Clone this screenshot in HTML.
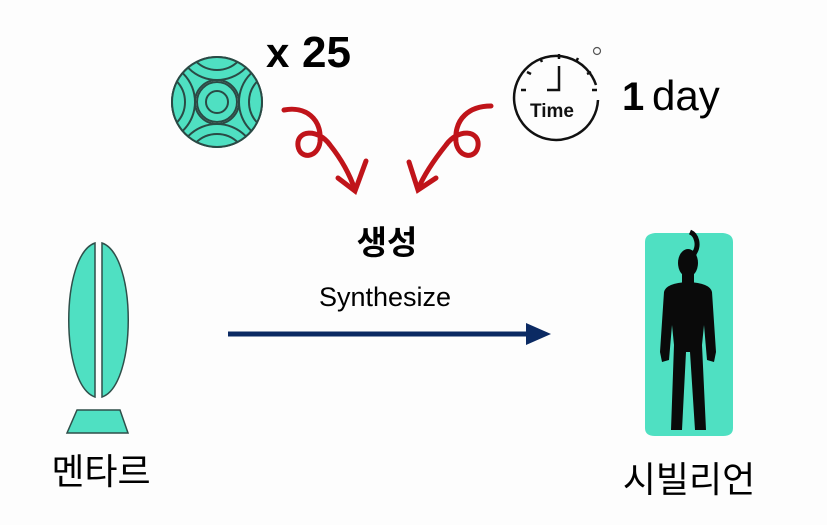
<!DOCTYPE html>
<html><head><meta charset="utf-8"><style>
html,body{margin:0;padding:0;background:#fdfdfd;}
svg{display:block}
text{font-family:"Liberation Sans","Noto Sans CJK KR",sans-serif;}
</style></head><body>
<svg width="827" height="525" viewBox="0 0 827 525" xmlns="http://www.w3.org/2000/svg">
<rect width="827" height="525" fill="#fdfdfd"/>
<defs><clipPath id="c"><circle cx="217" cy="102" r="45"/></clipPath></defs>
<circle cx="217" cy="102" r="45" fill="#4fe0c2" stroke="#2a4a45" stroke-width="2"/>
<g clip-path="url(#c)" fill="none" stroke="#2a4a45" stroke-width="2">
<circle cx="217" cy="102" r="22" fill="#fdfdfd"/>
<circle cx="217" cy="40" r="40" fill="#4fe0c2"/>
<circle cx="217" cy="40" r="30"/>
<circle cx="217" cy="164" r="40" fill="#4fe0c2"/>
<circle cx="217" cy="164" r="30"/>
<circle cx="155" cy="102" r="40" fill="#4fe0c2"/>
<circle cx="155" cy="102" r="30"/>
<circle cx="279" cy="102" r="40" fill="#4fe0c2"/>
<circle cx="279" cy="102" r="30"/>
<circle cx="217" cy="102" r="20" fill="#4fe0c2"/>
<circle cx="217" cy="102" r="11"/>
</g>
<circle cx="217" cy="102" r="45" fill="none" stroke="#2a4a45" stroke-width="2"/>
<text x="266" y="67" font-size="42" font-weight="bold" fill="#000">x</text>
<text x="302" y="67" font-size="44" font-weight="bold" fill="#000">25</text>
<path d="M596,85 A42,42 0 1 0 598,100" fill="none" stroke="#111" stroke-width="2.5"/>
<circle cx="597" cy="51" r="3.5" fill="none" stroke="#555" stroke-width="1.2"/>
<g stroke="#111" stroke-width="2.5">
<line x1="559" y1="54" x2="559" y2="59"/><line x1="540" y1="58" x2="542" y2="62"/><line x1="578" y1="58" x2="576" y2="62"/>
<line x1="527" y1="72" x2="531" y2="74"/><line x1="591" y1="72" x2="587" y2="74"/>
<line x1="521" y1="90" x2="526" y2="90"/><line x1="597" y1="90" x2="592" y2="90"/>
<polyline points="559,66 559,90 547,90" fill="none"/>
</g>
<text x="530" y="117" font-size="19" font-weight="bold" fill="#111">Time</text>
<text x="622" y="110" font-size="40" font-weight="bold" fill="#000">1</text>
<text x="652" y="110" font-size="42" fill="#000">day</text>
<g fill="none" stroke="#c0141a" stroke-width="5" stroke-linecap="round">
<path d="M284,110 C305,106 322,118 320,142 C318,158 300,160 298,146 C296,130 318,128 330,145 C342,160 350,175 355,190"/>
<path d="M338,178 L355,191 L366,161"/>
<path d="M491,106 C470,106 454,118 456,142 C458,158 476,160 478,146 C480,130 458,128 446,145 C434,160 424,175 418,189"/>
<path d="M409,162 L418,190 L436,178"/>
</g>
<text x="387" y="254" font-size="33" font-weight="bold" text-anchor="middle" fill="#000">생성</text>
<text x="385" y="306" font-size="27" text-anchor="middle" fill="#000">Synthesize</text>
<line x1="228" y1="334" x2="530" y2="334" stroke="#0b2a63" stroke-width="5"/>
<polygon points="526,323 551,334 526,345" fill="#0b2a63"/>
<path d="M95,243 C60,255 60,385 95,397 Z" fill="#4fe0c2" stroke="#2f4f4a" stroke-width="1.5"/>
<path d="M102,243 C137,255 137,385 102,397 Z" fill="#4fe0c2" stroke="#2f4f4a" stroke-width="1.5"/>
<polygon points="77,410 120,410 128,433 67,433" fill="#4fe0c2" stroke="#2f4f4a" stroke-width="1.5"/>
<text x="101" y="484" font-size="36" text-anchor="middle" fill="#000">멘타르</text>
<path d="M645,242 Q645,234 655,233 L723,233 Q733,234 733,242 L733,428 Q733,436 723,436 L655,436 Q645,436 645,428 Z" fill="#4fe0c2"/>
<g fill="#0a0a0a">
<path d="M690,232 C697,235 699,245 695,252 C691,258 695,262 690,265" fill="none" stroke="#0a0a0a" stroke-width="5"/>
<ellipse cx="688" cy="263" rx="10" ry="14"/>
<rect x="682" y="272" width="12" height="12"/>
<path d="M664,292 Q666,283 688,282 Q710,283 712,292 L716,352 L714,362 L707,360 L704,325 L702,345 L706,430 L695,430 L690,352 L686,352 L682,430 L671,430 L674,345 L672,325 L669,360 L662,362 L660,352 Z"/>
</g>
<text x="689" y="492" font-size="36" text-anchor="middle" fill="#000">시빌리언</text>
</svg>
</body></html>
